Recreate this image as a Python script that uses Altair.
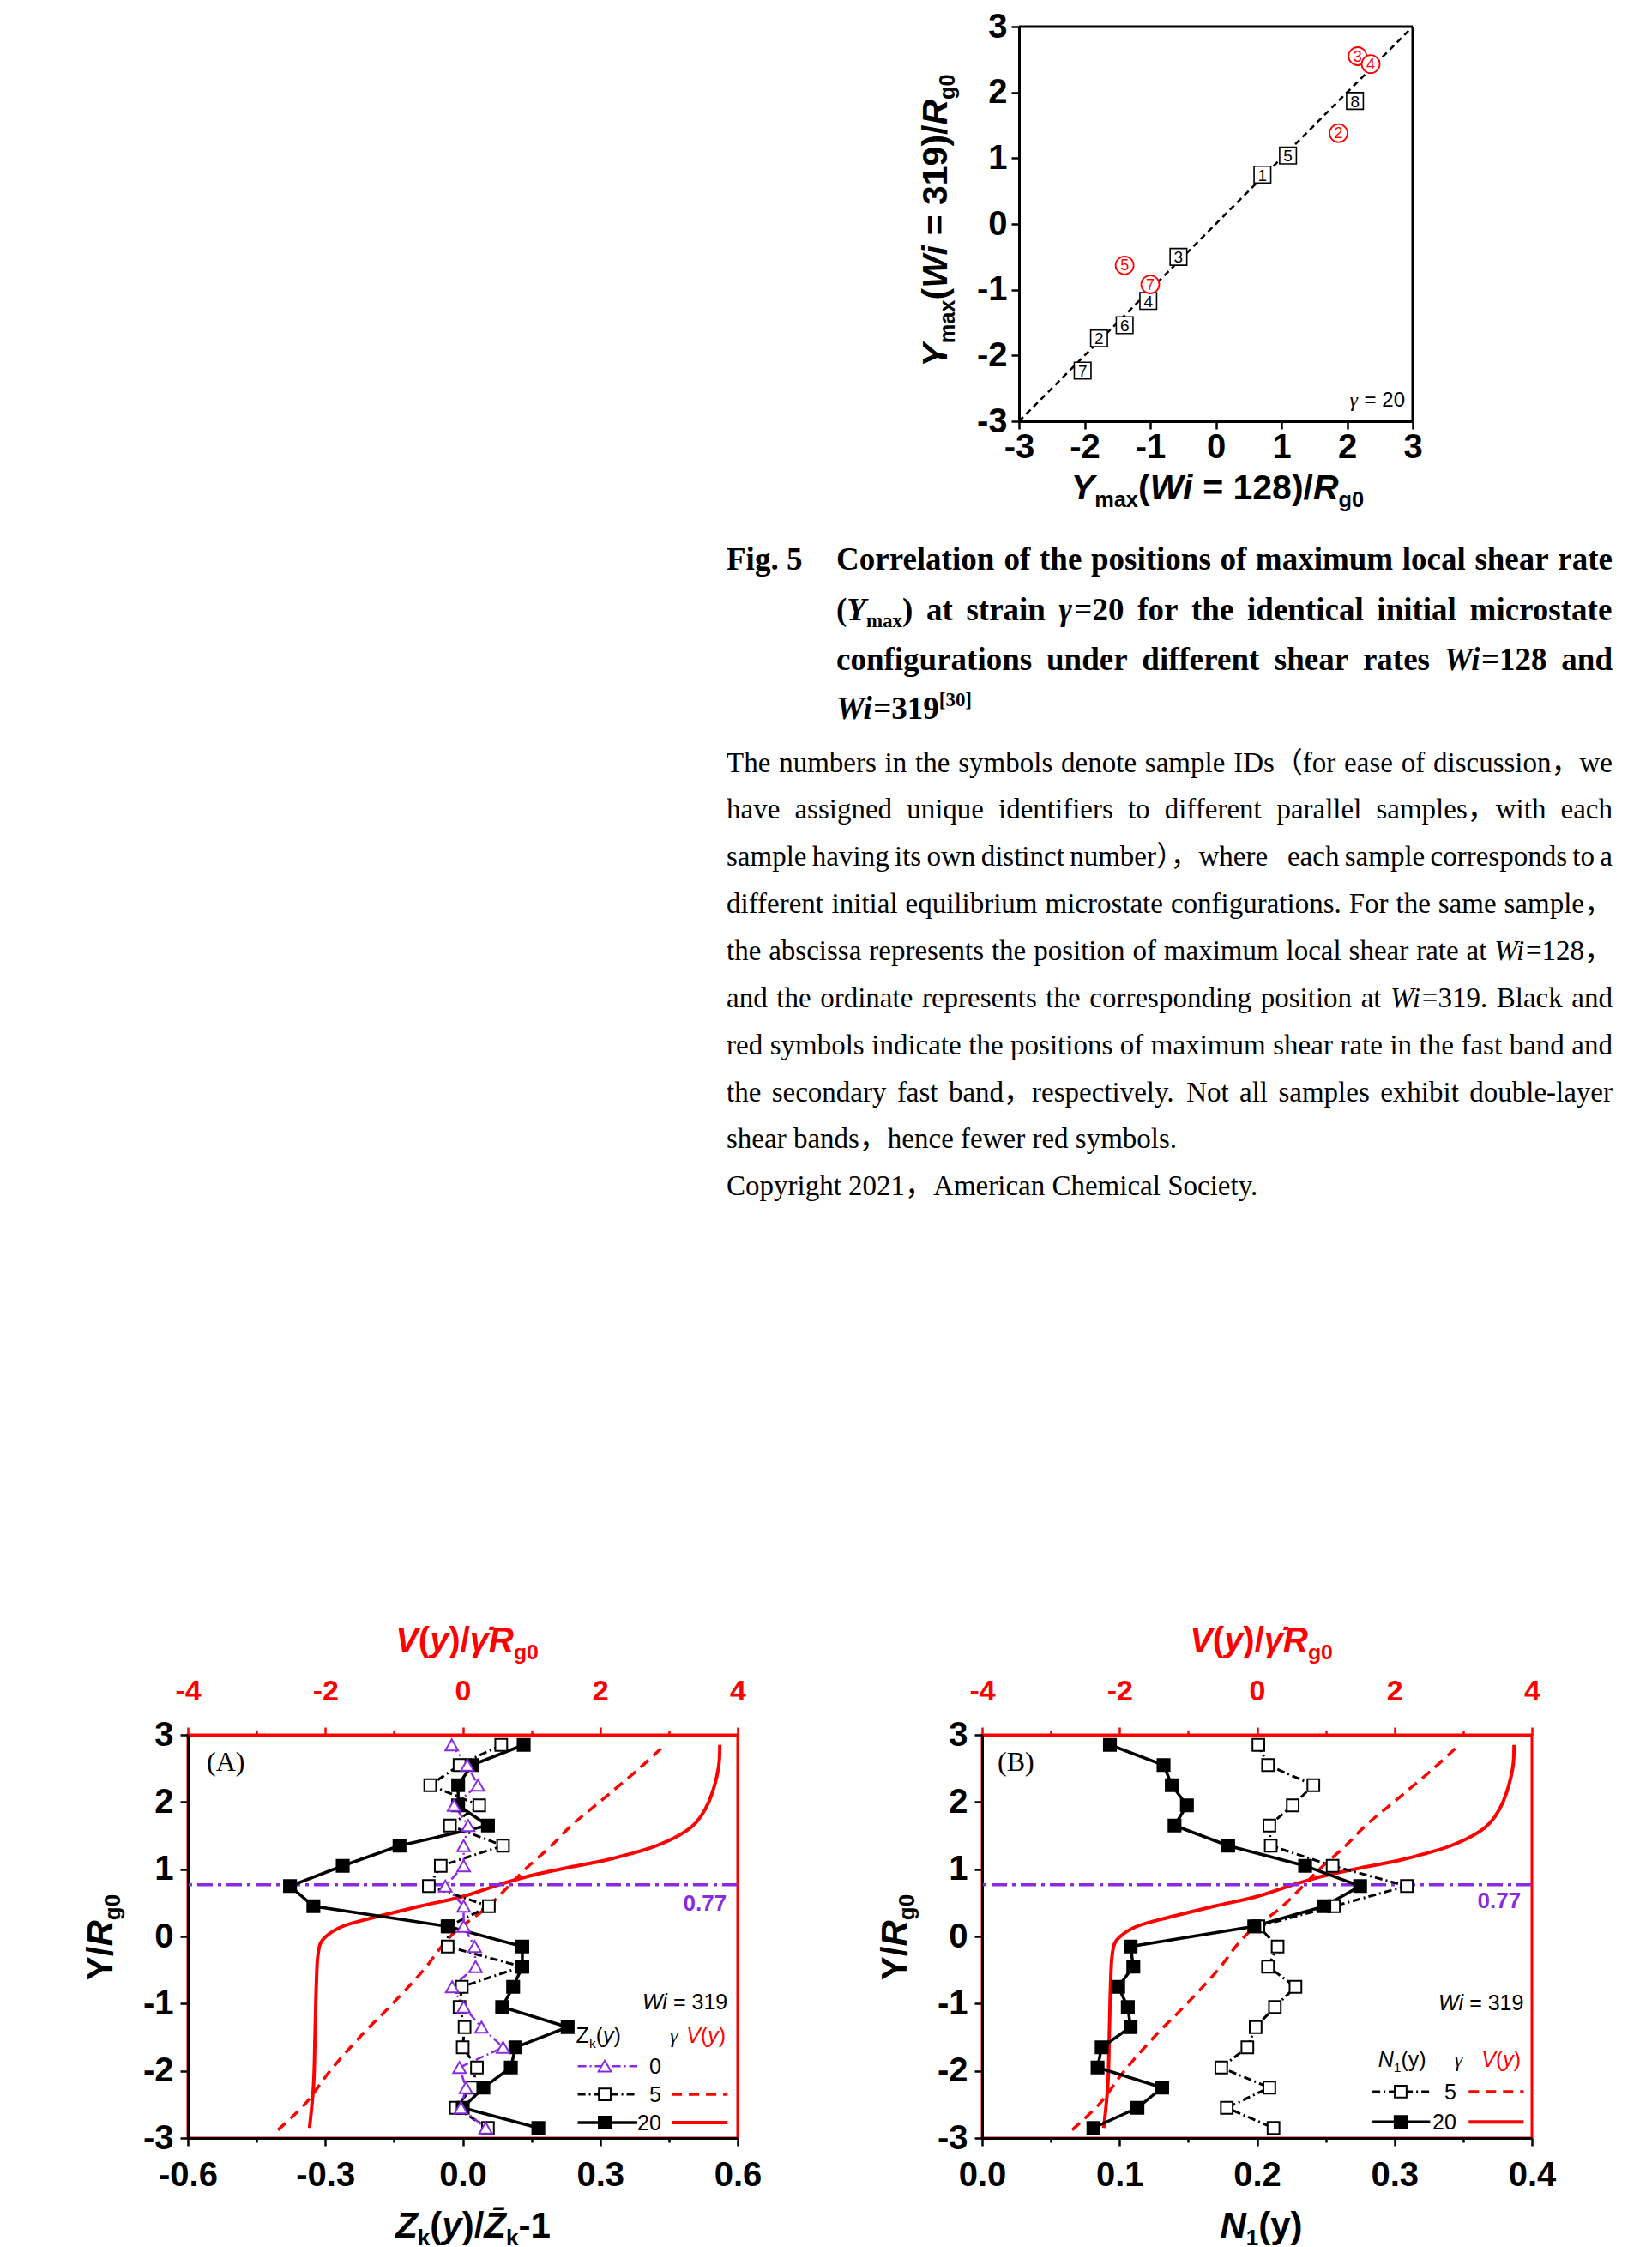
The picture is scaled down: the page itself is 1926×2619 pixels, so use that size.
import math
import altair as alt
import pandas as pd

# ======================= DATA =======================
# Fig. 5 scatter: Ymax(Wi=128)/Rg0 vs Ymax(Wi=319)/Rg0
black_ids = ["1", "2", "3", "4", "5", "6", "7", "8"]
black_wi128 = [0.71, -1.78, -0.57, -1.03, 1.10, -1.39, -2.03, 2.12]
black_wi319 = [0.75, -1.74, -0.50, -1.17, 1.04, -1.54, -2.23, 1.87]
red_ids = ["2", "3", "4", "5", "7"]
red_wi128 = [1.87, 2.16, 2.36, -1.39, -1.00]
red_wi319 = [1.38, 2.55, 2.43, -0.63, -0.92]
diagonal = [-3, 3]

# profile panels: bin centres Y/Rg0
bin_y = [2.85, 2.55, 2.25, 1.95, 1.65, 1.35, 1.05, 0.75, 0.45, 0.15,
         -0.15, -0.45, -0.75, -1.05, -1.35, -1.65, -1.95, -2.25, -2.55, -2.85]
zk_g0 = [-0.024, 0.010, 0.033, -0.019, 0.012, 0.002, 0.002, -0.038, 0.002, 0.002,
         0.026, 0.028, -0.023, 0.002, 0.041, 0.088, -0.007, 0.007, -0.004, 0.050]
zk_g5 = [0.084, -0.007, -0.071, 0.036, -0.028, 0.088, -0.048, -0.074, 0.057, -0.031,
         -0.033, 0.129, -0.002, -0.007, 0.004, 0.000, 0.031, 0.020, -0.015, 0.055]
zk_g20 = [0.133, 0.020, -0.010, -0.010, 0.055, -0.138, -0.262, -0.377, -0.326, -0.033,
          0.130, 0.130, 0.110, 0.086, 0.229, 0.115, 0.105, 0.045, 0.000, 0.165]
n1_g5 = [0.201, 0.208, 0.241, 0.226, 0.209, 0.210, 0.255, 0.309, 0.256, 0.201,
         0.215, 0.208, 0.228, 0.213, 0.199, 0.193, 0.174, 0.209, 0.178, 0.212]
n1_g20 = [0.093, 0.132, 0.138, 0.149, 0.140, 0.179, 0.235, 0.275, 0.249, 0.198,
          0.108, 0.110, 0.099, 0.106, 0.108, 0.087, 0.084, 0.131, 0.113, 0.081]

# velocity profiles V(y)/(gamma_dot Rg0)
v5_y = [-2.88, -2.5, -2.0, -1.5, -1.0, -0.5, 0.0, 0.45, 0.77, 1.0, 1.35, 1.65, 2.0, 2.5, 2.83]
v5_v = [-2.69, -2.30, -1.93, -1.50, -1.02, -0.57, -0.18, 0.37, 0.69, 0.91, 1.29, 1.58, 1.99, 2.57, 2.92]
v20_y = [-2.85, -2.2, -1.5, -0.7, -0.3, -0.1, 0.0, 0.14, 0.29, 0.45, 0.6, 0.77, 0.9, 1.04,
         1.13, 1.23, 1.35, 1.5, 1.63, 1.78, 2.0, 2.5, 2.85]
v20_v = [-2.23, -2.17, -2.15, -2.13, -2.11, -2.07, -1.99, -1.77, -1.26, -0.62, 0.02, 0.53, 0.97, 1.61,
         2.06, 2.44, 2.82, 3.14, 3.33, 3.46, 3.58, 3.72, 3.74]
band_y = [0.77]

# ======================= TEXT =======================
caption_fig = "Fig. 5"
caption_title = [
    "Correlation of the positions of maximum local shear rate",
    "(*Y*_{max}) at strain *γ*=20 for the identical initial microstate",
    "configurations under different shear rates *Wi*=128 and",
    "*Wi*=319^{[30]}",
]
caption_body = [
    "The numbers in the symbols denote sample IDs（for ease of discussion，we",
    "have assigned unique identifiers to different parallel samples，with each",
    "sample having its own distinct number），where each sample corresponds to a",
    "different initial equilibrium microstate configurations. For the same sample，",
    "the abscissa represents the position of maximum local shear rate at *Wi*=128，",
    "and the ordinate represents the corresponding position at *Wi*=319. Black and",
    "red symbols indicate the positions of maximum shear rate in the fast band and",
    "the secondary fast band，respectively. Not all samples exhibit double-layer",
    "shear bands，hence fewer red symbols.",
    "Copyright 2021，American Chemical Society.",
]

# ======================= STYLE / LAYOUT =======================
RED = "#FF0000"
PURPLE = "#8A2BE2"
SANS = "Liberation Sans, Arial, sans-serif"
SERIF = "Liberation Serif, Noto Sans CJK SC, serif"

OX, OY = 218, 22                       # page position of layout origin
SC_LEFT, SC_TOP, SC_W, SC_H = 1187, 22, 459, 460
PA_LEFT, PB_LEFT, P_TOP, PAN_W, PAN_H = 218, 1144, 2013, 641, 470
COL_GAP = PB_LEFT - PA_LEFT - PAN_W    # 285
SC_SHIFT = SC_LEFT - PB_LEFT           # scatter plot sits 43 px right of its grid cell
ROW_GAP = P_TOP - SC_TOP - SC_H        # 1531


def _tbl(spec):
    d = {}
    for chars, w in spec:
        for c in chars:
            d[c] = w / 1000.0
    return d


SANS_R = _tbl([(" ,./:;[]ft!", 278), ("ijl", 222), ("()-r", 333),
               ("0123456789abdeghnopqu", 556), ("ckvxyzsJ", 500), ("=+", 584),
               ("w", 722), ("m", 833), ("I", 278), ("L", 556), ("FTZ", 611),
               ("ABEKPSVXY", 667), ("CDHNRU", 722), ("GOQ", 778), ("M", 833), ("W", 944), ("γ", 500)])
SANS_B = _tbl([(" ,./:;[]!ijl", 278), ("()-ft", 333), ("r", 389), ("0123456789acesvkxy", 556),
               ("bdghnopqu", 611), ("z", 500), ("w", 778), ("m", 889), ("=+", 584), ("I", 278),
               ("J", 556), ("FTZL", 611), ("EPSVXY", 667), ("ABCDHKNRU", 722), ("GOQ", 778),
               ("M", 833), ("W", 944), ("γ", 556)])
SERIF_R = _tbl([(" ,.", 250), ("ijlt:;/", 278), ("()[]-fr", 333), ("s", 389), ("acez", 444),
                ("0123456789bdghknopquvxy", 500), ("w", 722), ("m", 778), ("=+", 564), ("I", 333),
                ("J", 389), ("FPS", 556), ("ELTZ", 611), ("BCR", 667), ("ADGHKNOQUVXY", 722),
                ("M", 889), ("W", 944), ("γ", 440)])
SERIF_B = _tbl([(" ,.", 250), ("ijl:;/", 278), ("()[]-ft", 333), ("s", 389), ("cerz", 444),
                ("0123456789aogvxy", 500), ("bdhknpqu", 556), ("w", 722), ("m", 833), ("=+", 570),
                ("I", 389), ("J", 500), ("S", 556), ("FP", 611), ("BELTZ", 667), ("ACDNRUVXY", 722),
                ("GHKOQ", 778), ("M", 944), ("W", 1000), ("γ", 480)])

ROWS = {}


def char_w(ch, fam, bold, italic):
    if ch in "\u0304\u0307":
        return 0.0
    if ch in "（），":
        return 1.0
    if fam == "serif":
        if italic and ch == "W":
            return 0.889 if bold else 0.833
        if italic and ch == "Y":
            return 0.611 if bold else 0.556
        t = SERIF_B if bold else SERIF_R
    else:
        t = SANS_B if bold else SANS_R
    return t.get(ch, 0.55)


def run_pieces(runs, base, fam, bold):
    out = []
    for text, mode in runs:
        it = "i" in mode
        bd = bold and "n" not in mode
        small = ("s" in mode) or ("u" in mode)
        size = base * (0.62 if small else 1.0)
        shift = base * 0.22 if "s" in mode else (-base * 0.40 if "u" in mode else 0.0)
        w = sum(char_w(c, fam, bd, it) for c in text) * size
        out.append((text, it, bd, size, shift, w))
    return out


def measure(runs, base, fam="sans", bold=False):
    return sum(p[5] for p in run_pieces(runs, base, fam, bold))


def put(runs, ax, ay, base, align="left", angle=0, color="black", fam="sans", bold=False):
    pieces = run_pieces(runs, base, fam, bold)
    total = sum(p[5] for p in pieces)
    off = {"left": 0.0, "center": -total / 2, "right": -total}[align]
    th = math.radians(angle)
    ux, uy = math.cos(th), math.sin(th)
    nx, ny = -math.sin(th), math.cos(th)
    for text, it, bd, size, shift, w in pieces:
        s = text.strip(" ")
        if s:
            lead = (len(text) - len(text.lstrip(" "))) * char_w(" ", fam, bd, it) * size
            o = off + lead
            ROWS.setdefault((fam, bd, it), []).append({
                "t": s, "px": ax + ux * o + nx * shift - OX, "py": ay + uy * o + ny * shift - OY,
                "size": size, "angle": angle, "color": color})
        off += w
    return total


def parse(token):
    runs, cur, ital, i = [], "", False, 0
    while i < len(token):
        ch = token[i]
        if ch == "*":
            if cur:
                runs.append((cur, "i" if ital else ""))
                cur = ""
            ital = not ital
            i += 1
            continue
        if ch in "_^" and i + 1 < len(token) and token[i + 1] == "{":
            if cur:
                runs.append((cur, "i" if ital else ""))
                cur = ""
            j = token.index("}", i)
            runs.append((token[i + 2:j], ("i" if ital else "") + ("s" if ch == "_" else "u")))
            i = j + 1
            continue
        cur += ch
        i += 1
    if cur:
        runs.append((cur, "i" if ital else ""))
    return runs


def set_line(line, x0, x1, base_y, size, bold, justify):
    toks = [parse(t) for t in line.split(" ") if t]
    widths = [measure(r, size, "serif", bold) for r in toks]
    space = char_w(" ", "serif", bold, False) * size
    gap = (x1 - x0 - sum(widths)) / (len(toks) - 1) if (justify and len(toks) > 1) else space
    x = x0
    for r, w in zip(toks, widths):
        put(r, x, base_y, size, "left", 0, "black", "serif", bold)
        x += w + gap


# ---------------- caption ----------------
put([(caption_fig, "")], 846, 655, 37, fam="serif", bold=True)
title_base = [655, 714, 772, 829]
for k, line in enumerate(caption_title):
    set_line(line, 974, 1879, title_base[k], 37, True, k < len(caption_title) - 1)
body_base = [891, 945, 1000, 1055, 1110, 1165, 1220, 1275, 1329, 1384]
for k, line in enumerate(caption_body):
    set_line(line, 846, 1879, body_base[k], 33, False, k < 8)

# ---------------- axis titles ----------------
TSC = 41
TP = 42
put([("Y", "i"), ("max", "s"), ("(", ""), ("Wi", "i"), (" = 128)/", ""), ("R", "i"), ("g0", "s")],
    SC_LEFT + SC_W / 2 + 2, 573, TSC, "center", bold=True)
put([("Y", "i"), ("max", "s"), ("(", ""), ("Wi", "i"), (" = 319)/", ""), ("R", "i"), ("g0", "s")],
    1103, SC_TOP + 226, TSC, "center", angle=270, bold=True)
for left in (PA_LEFT, PB_LEFT):
    put([("Y/", ""), ("R", "i"), ("g0", "s")], left - 88, P_TOP + 236, TP, "center", angle=270, bold=True)
    put([("V", "i"), ("(", ""), ("y", "i"), (")/", ""), ("γ\u0307", "i"), ("R", "i"), ("g0", "s")],
        left + PAN_W / 2 + 5, 1916, 40, "center", color=RED, bold=True)
put([("Z", "i"), ("k", "s"), ("(", ""), ("y", "i"), (")/", ""), ("Z\u0304", "i"), ("k", "s"), ("-1", "")],
    PA_LEFT + PAN_W / 2 + 12, 2599, TP, "center", bold=True)
put([("N", "i"), ("1", "s"), ("(y)", "")], PB_LEFT + PAN_W / 2 + 5, 2599, TP, "center", bold=True)

# ---------------- in-plot annotations ----------------
w20 = measure([(" = 20", "")], 24)
put([(" = 20", "")], 1637, 465, 24, "right")
put([("γ", "i")], 1637 - w20, 465, 24, "right", fam="serif")

put([("(A)", "")], PA_LEFT + 22, 2055, 32, fam="serif")
put([("(B)", "")], PB_LEFT + 18, 2055, 32, fam="serif")


def pxy(left, x0, x1, x, y):
    return left + (x - x0) / (x1 - x0) * PAN_W, P_TOP + (3 - y) / 6 * PAN_H


LF = 25
# legend A
ax_, ay_ = pxy(PA_LEFT, -0.6, 0.6, 0.578, -0.97)
wn = measure([(" = 319", "")], LF)
put([(" = 319", "")], ax_, ay_ + 9, LF, "right")
put([("Wi", "i")], ax_ - wn, ay_ + 9, LF, "right")
ax_, ay_ = pxy(PA_LEFT, -0.6, 0.6, 0.345, -1.47)
put([("Z", ""), ("k", "s"), ("(", ""), ("y", "i"), (")", "")], ax_, ay_ + 9, LF, "right")
ax_, ay_ = pxy(PA_LEFT, -0.6, 0.6, 0.462, -1.47)
put([("γ", "i")], ax_, ay_ + 9, LF, "center", fam="serif")
ax_, ay_ = pxy(PA_LEFT, -0.6, 0.6, 0.574, -1.47)
put([("V", "i"), ("(", ""), ("y", "i"), (")", "")], ax_, ay_ + 9, LF, "right", color=RED)
for lab, yy in zip(["0", "5", "20"], [-1.93, -2.35, -2.77]):
    ax_, ay_ = pxy(PA_LEFT, -0.6, 0.6, 0.433, yy)
    put([(lab, "")], ax_, ay_ + 9, LF, "right")
ax_, ay_ = pxy(PA_LEFT, -0.6, 0.6, 0.576, 0.50)
put([("0.77", "")], ax_, ay_ + 9, 26, "right", color=PURPLE, bold=True)

# legend B
ax_, ay_ = pxy(PB_LEFT, 0.0, 0.4, 0.394, -0.98)
put([(" = 319", "")], ax_, ay_ + 9, LF, "right")
put([("Wi", "i")], ax_ - wn, ay_ + 9, LF, "right")
ax_, ay_ = pxy(PB_LEFT, 0.0, 0.4, 0.323, -1.83)
put([("N", "i"), ("1", "s"), ("(y)", "")], ax_, ay_ + 9, LF, "right")
ax_, ay_ = pxy(PB_LEFT, 0.0, 0.4, 0.347, -1.83)
put([("γ", "i")], ax_, ay_ + 9, LF, "center", fam="serif")
ax_, ay_ = pxy(PB_LEFT, 0.0, 0.4, 0.392, -1.83)
put([("V", "i"), ("(", ""), ("y", "i"), (")", "")], ax_, ay_ + 9, LF, "right", color=RED)
for lab, yy in zip(["5", "20"], [-2.31, -2.76]):
    ax_, ay_ = pxy(PB_LEFT, 0.0, 0.4, 0.345, yy)
    put([(lab, "")], ax_, ay_ + 9, LF, "right")
ax_, ay_ = pxy(PB_LEFT, 0.0, 0.4, 0.392, 0.53)
put([("0.77", "")], ax_, ay_ + 9, 26, "right", color=PURPLE, bold=True)

# ======================= CHARTS =======================
FONTS = {"sans": SANS, "serif": SERIF}
text_layers = []
for (fam, bd, it), rows in ROWS.items():
    df = pd.DataFrame(rows)
    text_layers.append(
        alt.Chart(df).mark_text(font=FONTS[fam], fontWeight="bold" if bd else "normal",
                                fontStyle="italic" if it else "normal",
                                align="left", baseline="alphabetic").encode(
            x=alt.X("px:Q", scale=None, axis=None),
            y=alt.Y("py:Q", scale=None, axis=None),
            text="t:N",
            size=alt.Size("size:Q", scale=None, legend=None),
            angle=alt.Angle("angle:Q", scale=None),
            color=alt.Color("color:N", scale=None, legend=None),
        ))

anchor = alt.Chart(pd.DataFrame({"a": [0]})).mark_rule(color="white", strokeWidth=1).encode(
    x=alt.value(-210), x2=alt.value(-205), y=alt.value(-22))
spacer = alt.layer(anchor, *text_layers).properties(width=PAN_W, height=SC_H)


def axis_common(**kw):
    base = dict(domainColor="black", domainWidth=3, tickColor="black", tickWidth=2.5,
                labelFont=SANS, labelFontWeight="bold", labelColor="black", grid=False,
                title=None, labelFlush=False, labelOverlap=False)
    base.update(kw)
    return alt.Axis(**base)


def tsize(test_minor, major=9, minor=5):
    return {"condition": {"test": test_minor, "value": minor}, "value": major}


MINUS = "\u2212"
int_lbl = "datum.value % 1 === 0 ? replace(datum.label, '" + MINUS + "', '-') : ''"
half_vals = [-3, -2.5, -2, -1.5, -1, -0.5, 0, 0.5, 1, 1.5, 2, 2.5, 3]

# ---------------- scatter ----------------
ax_sc_x = axis_common(values=half_vals, format="d", labelExpr=int_lbl,
                      tickSize=tsize("datum.value % 1 !== 0"), labelFontSize=40, labelPadding=1)
ax_sc_y = axis_common(values=half_vals, format="d", labelExpr=int_lbl,
                      tickSize=tsize("datum.value % 1 !== 0"), labelFontSize=40, labelPadding=5,
                      offset=-SC_SHIFT)
X_sc = alt.X("x:Q", scale=alt.Scale(domain=[-3, 3], nice=False, zero=False,
                                    range=[SC_SHIFT, SC_SHIFT + SC_W]), axis=ax_sc_x)
Y_sc = alt.Y("y:Q", scale=alt.Scale(domain=[-3, 3], nice=False, zero=False), axis=ax_sc_y)

df_black = pd.DataFrame({"id": black_ids, "x": black_wi128, "y": black_wi319})
df_red = pd.DataFrame({"id": red_ids, "x": red_wi128, "y": red_wi319})
df_diag = pd.DataFrame({"x": diagonal, "y": diagonal})
df_top = pd.DataFrame({"x": [diagonal[0]], "x2": [diagonal[1]], "y": [diagonal[1]]})
df_right = pd.DataFrame({"x": [diagonal[1]], "y": [diagonal[0]], "y2": [diagonal[1]]})

scatter = alt.layer(
    alt.Chart(df_diag).mark_line(color="black", strokeDash=[7, 5], strokeWidth=2.5).encode(x=X_sc, y=Y_sc),
    alt.Chart(df_top).mark_rule(color="black", strokeWidth=3).encode(x=X_sc, x2="x2:Q", y=Y_sc),
    alt.Chart(df_right).mark_rule(color="black", strokeWidth=3).encode(x=X_sc, y=Y_sc, y2="y2:Q"),
    alt.Chart(df_black).mark_point(shape="square", size=380, filled=True, fill="white",
                                   stroke="black", strokeWidth=1.6, opacity=1).encode(x=X_sc, y=Y_sc),
    alt.Chart(df_black).mark_text(font=SANS, fontSize=19, color="black", baseline="middle",
                                  align="center", dy=1).encode(x=X_sc, y=Y_sc, text="id:N"),
    alt.Chart(df_red).mark_point(shape="circle", size=440, filled=True, fill="white",
                                 stroke=RED, strokeWidth=1.8, opacity=1).encode(x=X_sc, y=Y_sc),
    alt.Chart(df_red).mark_text(font=SANS, fontSize=18, color=RED, baseline="middle",
                                align="center", dy=1).encode(x=X_sc, y=Y_sc, text="id:N"),
).properties(width=SC_W + SC_SHIFT, height=SC_H)

# ---------------- profile panels ----------------
ax_left = axis_common(values=half_vals, format="d", labelExpr=int_lbl,
                      tickSize=tsize("datum.value % 1 !== 0"), labelFontSize=40, labelPadding=8)
y_scale = alt.Scale(domain=[-3, 3], nice=False, zero=False)
Y_p = alt.Y("y:Q", scale=y_scale, axis=ax_left)

ax_top = axis_common(orient="top", values=[-4, -3, -2, -1, 0, 1, 2, 3, 4], format="d",
                     labelExpr="datum.value % 2 === 0 ? replace(datum.label, '" + MINUS + "', '-') : ''",
                     tickSize=tsize("datum.value % 2 !== 0"), labelFontSize=34, labelPadding=25,
                     domainColor=RED, tickColor=RED, labelColor=RED)
X_v = alt.X("v:Q", scale=alt.Scale(domain=[-4, 4], nice=False, zero=False), axis=ax_top)

df_v5 = pd.DataFrame({"v": v5_v, "y": v5_y, "i": list(range(len(v5_y)))})
df_v20 = pd.DataFrame({"v": v20_v, "y": v20_y, "i": list(range(len(v20_y)))})


def v_group():
    return alt.layer(
        alt.Chart(df_v5).mark_line(color=RED, strokeDash=[12, 8], strokeWidth=3.5,
                                   interpolate="catmull-rom").encode(x=X_v, y=Y_p, order="i:Q"),
        alt.Chart(df_v20).mark_line(color=RED, strokeWidth=4, interpolate="catmull-rom").encode(
            x=X_v, y=Y_p, order="i:Q"),
    )


def series_df(xs):
    return pd.DataFrame({"x": xs, "y": bin_y, "i": list(range(len(bin_y)))})


STY = {
    "g0": dict(line=dict(color=PURPLE, strokeDash=[10, 4, 2, 4], strokeWidth=2.5),
               pt=dict(shape="triangle-up", size=220, filled=True, fill="white", stroke=PURPLE, strokeWidth=2)),
    "g5": dict(line=dict(color="black", strokeDash=[9, 4, 2, 4], strokeWidth=3),
               pt=dict(shape="square", size=190, filled=True, fill="white", stroke="black", strokeWidth=2)),
    "g20": dict(line=dict(color="black", strokeWidth=3.5),
                pt=dict(shape="square", size=200, filled=True, fill="black", stroke="black", strokeWidth=2)),
}


def make_panel(X_z, series, legend_rows, leg_x, leg_mark, red_x):
    layers = [alt.Chart(pd.DataFrame({"y": band_y})).mark_rule(
        color=PURPLE, strokeDash=[18, 6, 4, 6], strokeWidth=3.5).encode(y=Y_p)]
    for key, xs in series:
        layers.append(alt.Chart(series_df(xs)).mark_line(**STY[key]["line"]).encode(x=X_z, y=Y_p, order="i:Q"))
    for key, xs in series:
        layers.append(alt.Chart(series_df(xs)).mark_point(opacity=1, **STY[key]["pt"]).encode(x=X_z, y=Y_p))
    for key, yy in legend_rows:
        layers.append(alt.Chart(pd.DataFrame({"x": leg_x, "y": [yy, yy]})).mark_line(
            **STY[key]["line"]).encode(x=X_z, y=Y_p))
        layers.append(alt.Chart(pd.DataFrame({"x": [leg_mark], "y": [yy]})).mark_point(
            opacity=1, **STY[key]["pt"]).encode(x=X_z, y=Y_p))
        if key == "g5":
            layers.append(alt.Chart(pd.DataFrame({"x": red_x, "y": [yy, yy]})).mark_line(
                color=RED, strokeDash=[12, 8], strokeWidth=3.5).encode(x=X_z, y=Y_p))
        if key == "g20":
            layers.append(alt.Chart(pd.DataFrame({"x": red_x, "y": [yy, yy]})).mark_line(
                color=RED, strokeWidth=4).encode(x=X_z, y=Y_p))
    z_group = alt.layer(*layers)
    return alt.layer(v_group(), z_group).resolve_scale(x="independent").properties(
        width=PAN_W, height=PAN_H, view=alt.ViewBackground(stroke=RED, strokeWidth=3))


test_a = "abs(datum.value / 0.3 - round(datum.value / 0.3)) < 1e-6"
ax_bot_a = axis_common(orient="bottom", values=[-0.6, -0.45, -0.3, -0.15, 0, 0.15, 0.3, 0.45, 0.6],
                       format=".1f",
                       labelExpr="(" + test_a + ") ? replace(datum.label, '" + MINUS + "', '-') : ''",
                       tickSize=tsize("!(" + test_a + ")"), labelFontSize=40, labelPadding=14)
X_a = alt.X("x:Q", scale=alt.Scale(domain=[-0.6, 0.6], nice=False, zero=False), axis=ax_bot_a)

test_b = "abs(datum.value * 10 - round(datum.value * 10)) < 1e-6"
ax_bot_b = axis_common(orient="bottom", values=[0, 0.05, 0.1, 0.15, 0.2, 0.25, 0.3, 0.35, 0.4],
                       format=".1f",
                       labelExpr="(" + test_b + ") ? datum.label : ''",
                       tickSize=tsize("!(" + test_b + ")"), labelFontSize=40, labelPadding=14)
X_b = alt.X("x:Q", scale=alt.Scale(domain=[0, 0.4], nice=False, zero=False), axis=ax_bot_b)

panel_a = make_panel(X_a, [("g5", zk_g5), ("g20", zk_g20), ("g0", zk_g0)],
                     [("g0", -1.93), ("g5", -2.35), ("g20", -2.77)],
                     [0.251, 0.381], 0.31, [0.456, 0.578])
panel_b = make_panel(X_b, [("g5", n1_g5), ("g20", n1_g20)],
                     [("g5", -2.31), ("g20", -2.76)],
                     [0.284, 0.326], 0.3045, [0.354, 0.394])

chart = alt.concat(
    spacer, scatter, panel_a, panel_b,
    columns=2, spacing={"row": ROW_GAP, "column": COL_GAP}, bounds="flush",
).properties(padding=0, background="white").configure_view(stroke="transparent")

chart.save("out.html", embed_options={"renderer": "svg", "actions": False})
